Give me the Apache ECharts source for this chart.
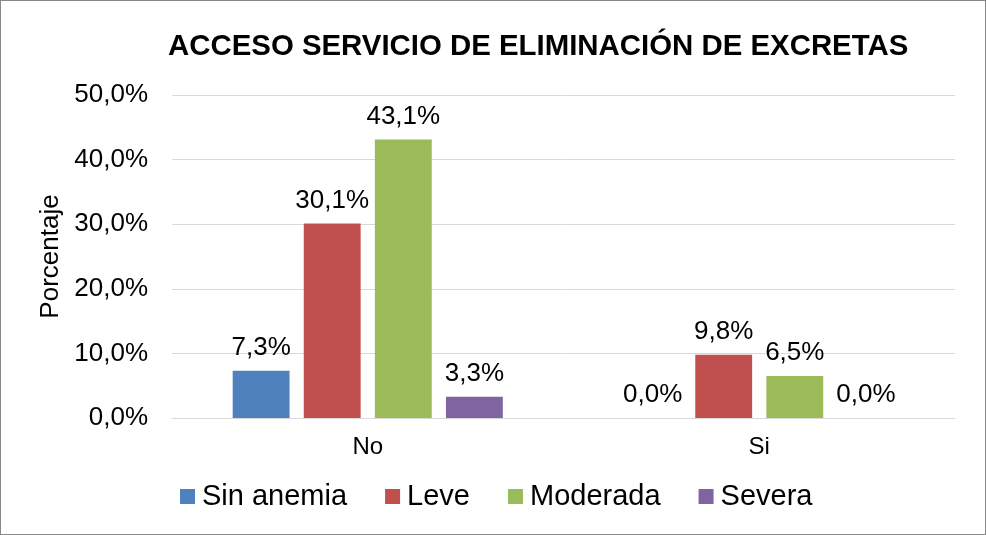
<!DOCTYPE html>
<html>
<head>
<meta charset="utf-8">
<script src="https://cdn.jsdelivr.net/npm/echarts@6/dist/echarts.min.js"></script>
<style>
  html, body { margin: 0; padding: 0; background: #fff; }
  #chart { width: 984px; height: 533px; border: 1px solid #888; }
</style>
</head>
<body>
<div id="chart"></div>
<script>
const categories = ['No', 'Si']
const seriesNames = ['Sin anemia', 'Leve', 'Moderada', 'Severa']
const sinAnemia = [7.3, 0.0]
const leve = [30.1, 9.8]
const moderada = [43.1, 6.5]
const severa = [3.3, 0.0]
const colors = ['#4F81BD', '#C0504D', '#9BBB59', '#8064A2']

const fmt = v => v.toFixed(1).replace('.', ',') + '%'
const font = 'Liberation Sans, Arial, sans-serif'

const chart = echarts.init(document.getElementById('chart'))

const values = [sinAnemia, leve, moderada, severa]

chart.setOption({
  animation: false,
  color: colors,
  title: {
    text: 'ACCESO SERVICIO DE ELIMINACIÓN DE EXCRETAS',
    left: 162,
    top: 26,
    textStyle: { fontFamily: font, fontSize: 29.4, fontWeight: 'bold', color: '#000' }
  },
  legend: {
    left: 174,
    top: 476,
    itemWidth: 15,
    itemHeight: 15,
    itemGap: 38,
    icon: 'rect',
    textStyle: { fontFamily: font, fontSize: 29, color: '#000', padding: [0, 0, 0, 2] },
    data: seriesNames
  },
  grid: { left: 171, right: 30, top: 94, bottom: 116 },
  xAxis: {
    type: 'category',
    data: categories,
    axisTick: { show: false },
    axisLine: { lineStyle: { color: '#d9d9d9', width: 1 } },
    axisLabel: { color: '#000', fontFamily: font, fontSize: 24, margin: 17 }
  },
  yAxis: {
    type: 'value',
    min: 0,
    max: 50,
    interval: 10,
    name: 'Porcentaje',
    nameLocation: 'middle',
    nameGap: 108,
    nameRotate: 90,
    nameTextStyle: { color: '#000', fontFamily: font, fontSize: 26 },
    axisLine: { show: false },
    axisTick: { show: false },
    splitLine: { lineStyle: { color: '#d9d9d9', width: 1 } },
    axisLabel: { color: '#000', fontFamily: font, fontSize: 26, margin: 24, formatter: v => fmt(v) }
  },
  series: seriesNames.map((name, i) => ({
    name,
    type: 'bar',
    data: values[i],
    barGap: '25%',
    barCategoryGap: '31%',
    label: {
      show: true,
      position: 'top',
      distance: 10,
      color: '#000',
      fontFamily: font,
      fontSize: 26,
      formatter: p => fmt(p.value)
    }
  }))
})
</script>
</body>
</html>
